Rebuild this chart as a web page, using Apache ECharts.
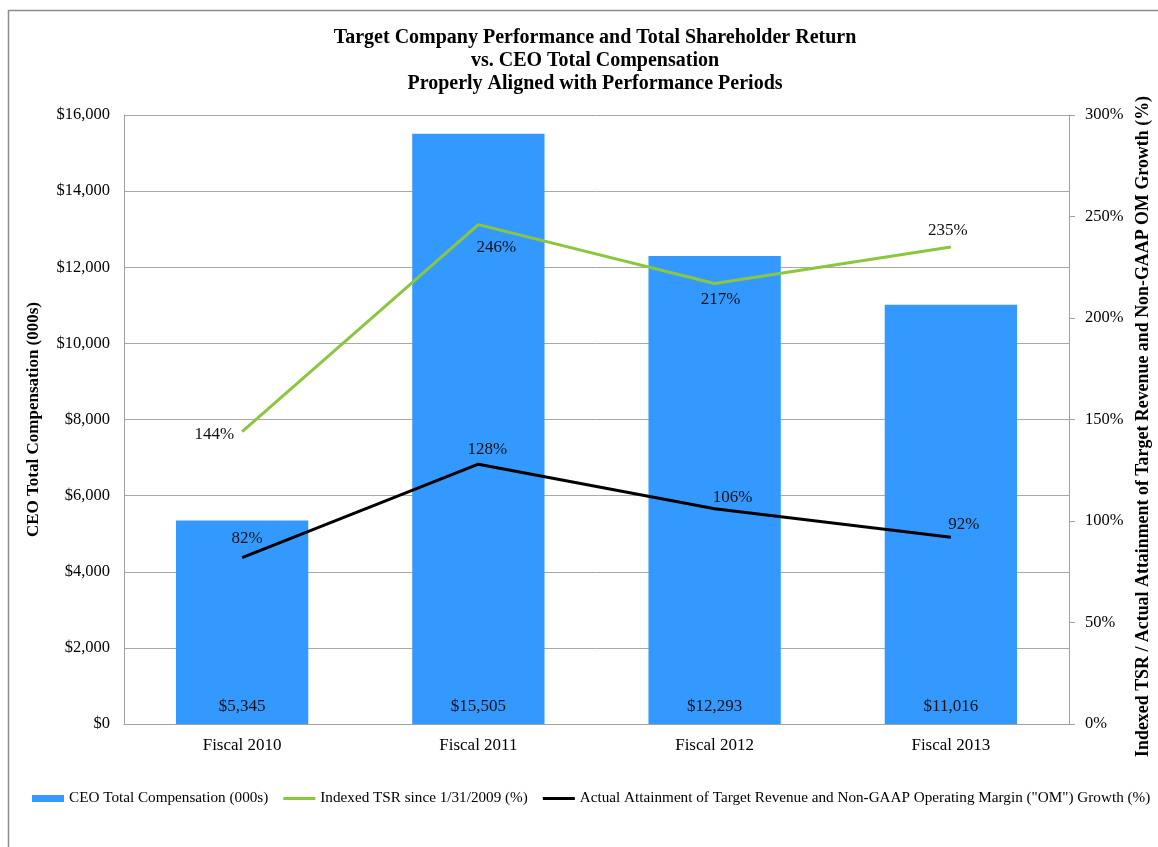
<!DOCTYPE html>
<html>
<head>
<meta charset="utf-8">
<script src="https://cdn.jsdelivr.net/npm/echarts@6/dist/echarts.min.js"></script>
<style>
html,body{margin:0;padding:0;background:#fff;}
#chart{width:1158px;height:847px;}
</style>
</head>
<body>
<div id="chart"></div>
<script>
const categories = ['Fiscal 2010', 'Fiscal 2011', 'Fiscal 2012', 'Fiscal 2013'];
const compensation = [5345, 15505, 12293, 11016];
const tsr = [144, 246, 217, 235];
const attainment = [82, 128, 106, 92];
const leftTicks = [0, 2000, 4000, 6000, 8000, 10000, 12000, 14000, 16000];
const rightTicks = [0, 50, 100, 150, 200, 250, 300];

const FONT = "'Liberation Serif', 'Times New Roman', serif";
const tsrLabelPos = ['left', 'bottom', 'bottom', 'top'];
const tsrLabelDist = [8, 14, 7, 8];
const tsrLabelOffset = [[0, 3], [18, 0], [6, 0], [-3, 0]];
const attLabelDist = [10, 6, 3, 4];
const attLabelOffset = [[5, 0], [9, 0], [18, 0], [13, 0]];
const LINE_ICON = 'path://M0,0H32V3H0Z';

const chart = echarts.init(document.getElementById('chart'));
chart.setOption({
  backgroundColor: '#fff',
  animation: false,
  textStyle: { fontFamily: FONT },
  graphic: [{
    type: 'rect', silent: true,
    shape: { x: 8.5, y: 10.5, width: 1300, height: 1000 },
    style: { fill: 'none', stroke: '#8c8c8c', lineWidth: 1.5 }
  }],
  title: {
    text: 'Target Company Performance and Total Shareholder Return\nvs. CEO Total Compensation\nProperly Aligned with Performance Periods',
    left: 590, top: 21, textAlign: 'center',
    textStyle: { fontFamily: FONT, fontWeight: 'bold', fontSize: 20, lineHeight: 23, color: '#000' }
  },
  legend: {
    left: 32, top: 791, padding: 0,
    itemWidth: 32, itemHeight: 7, itemGap: 15,
    textStyle: { fontFamily: FONT, fontSize: 15.2, color: '#000' },
    data: [
      { name: 'CEO Total Compensation (000s)', icon: 'rect' },
      { name: 'Indexed TSR since 1/31/2009 (%)', icon: LINE_ICON },
      { name: 'Actual Attainment of Target Revenue and Non-GAAP Operating Margin ("OM") Growth (%)', icon: LINE_ICON }
    ]
  },
  grid: { left: 124, right: 89, top: 115, bottom: 123, containLabel: false, outerBoundsMode: 'none' },
  xAxis: {
    type: 'category', data: categories,
    axisLine: { show: true, lineStyle: { color: '#a0a0a0', width: 1 } },
    axisTick: { show: false },
    axisLabel: { fontFamily: FONT, fontSize: 17, color: '#000', margin: 13 }
  },
  yAxis: [{
    type: 'value', min: 0, max: 16000, interval: 2000,
    name: 'CEO Total Compensation (000s)', nameLocation: 'middle', nameGap: 82, nameRotate: 90,
    nameTextStyle: { fontFamily: FONT, fontWeight: 'bold', fontSize: 17, color: '#000' },
    axisLine: { show: true, lineStyle: { color: '#a0a0a0', width: 1 } },
    axisTick: { show: false },
    splitLine: { show: true, lineStyle: { color: '#a8a8a8', width: 1 } },
    axisLabel: {
      fontFamily: FONT, fontSize: 16.5, color: '#000', margin: 14,
      formatter: v => '$' + v.toLocaleString('en-US')
    }
  }, {
    type: 'value', min: 0, max: 300, interval: 50, position: 'right',
    name: 'Indexed TSR / Actual Attainment of Target Revenue and Non-GAAP OM Growth (%)',
    nameLocation: 'middle', nameGap: 60, nameRotate: 90,
    nameTextStyle: { fontFamily: FONT, fontWeight: 'bold', fontSize: 17.9, color: '#000', padding: [0, 14, 0, 0] },
    axisLine: { show: true, lineStyle: { color: '#a0a0a0', width: 1 } },
    axisTick: { show: true, length: 6, lineStyle: { color: '#a0a0a0' } },
    splitLine: { show: false },
    axisLabel: { fontFamily: FONT, fontSize: 16.5, color: '#000', margin: 16, formatter: v => v + '%' }
  }],
  series: [{
    name: 'CEO Total Compensation (000s)', type: 'bar',
    data: compensation, barCategoryGap: '44%',
    itemStyle: { color: '#3399ff' },
    label: {
      show: true, position: 'insideBottom', distance: 9,
      fontFamily: FONT, fontSize: 17, color: '#111',
      formatter: p => '$' + p.value.toLocaleString('en-US')
    }
  }, {
    name: 'Indexed TSR since 1/31/2009 (%)', type: 'line', yAxisIndex: 1,
    data: tsr.map((v, i) => ({
      value: v,
      label: { position: tsrLabelPos[i], distance: tsrLabelDist[i], offset: tsrLabelOffset[i] }
    })),
    symbol: 'circle', symbolSize: 0.1, showAllSymbol: true,
    lineStyle: { color: '#8cc63f', width: 3 }, itemStyle: { color: '#8cc63f' },
    label: { show: true, fontFamily: FONT, fontSize: 17, color: '#111', formatter: p => p.value + '%' }
  }, {
    name: 'Actual Attainment of Target Revenue and Non-GAAP Operating Margin ("OM") Growth (%)', type: 'line', yAxisIndex: 1,
    data: attainment.map((v, i) => ({
      value: v,
      label: { position: 'top', distance: attLabelDist[i], offset: attLabelOffset[i] }
    })),
    symbol: 'circle', symbolSize: 0.1, showAllSymbol: true,
    lineStyle: { color: '#000', width: 3 }, itemStyle: { color: '#000' },
    label: { show: true, fontFamily: FONT, fontSize: 17, color: '#111', formatter: p => p.value + '%' }
  }]
});
</script>
</body>
</html>
